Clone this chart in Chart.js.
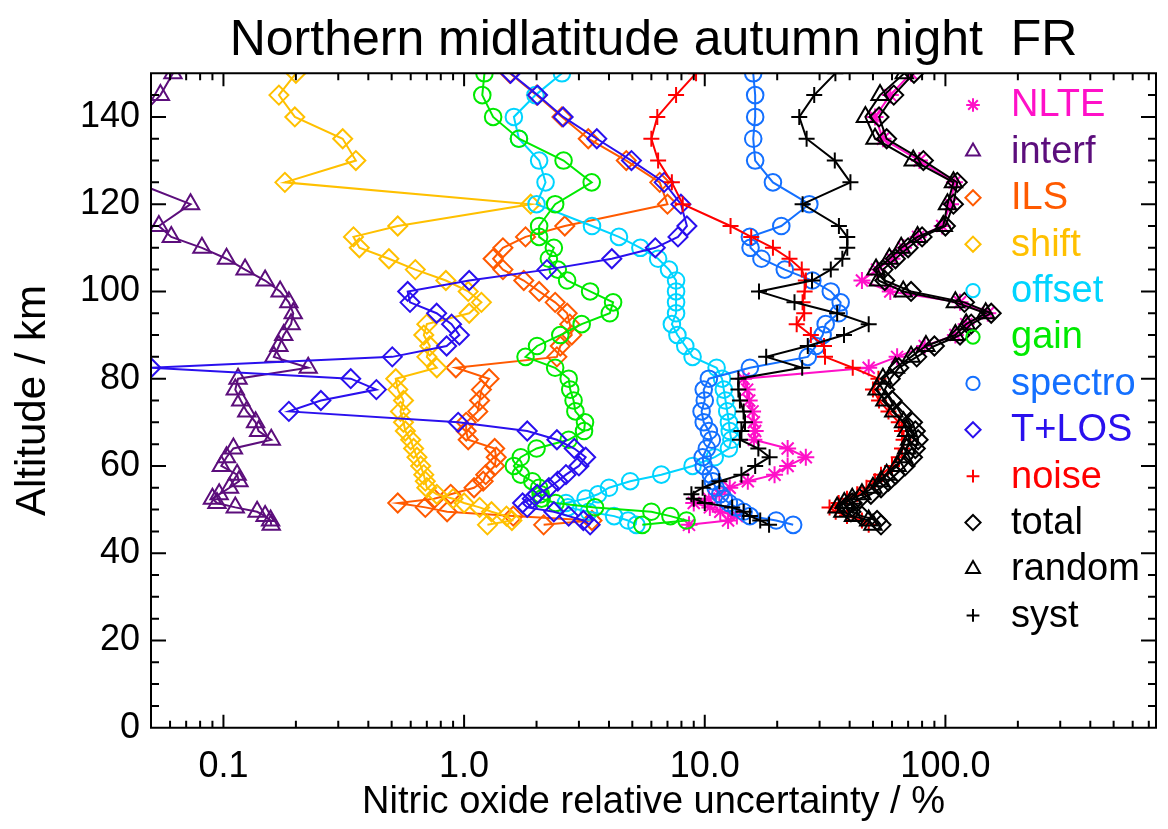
<!DOCTYPE html>
<html>
<head>
<meta charset="utf-8">
<title>Northern midlatitude autumn night FR</title>
<script src="https://cdn.jsdelivr.net/npm/chart.js"></script>
<style>
  html, body { margin: 0; padding: 0; background: #fff; }
  #wrap { width: 1168px; height: 829px; }
</style>
</head>
<body>
<div id="wrap"><canvas id="chart" width="1168" height="829"></canvas></div>
<script>
/*global Chart, document*/
(function () {
  "use strict";

  // retrieval altitude grid, km (bottom to top)
  var altitudeKm = [46.5, 47.5, 48.5, 49.5, 50.5, 51.5, 52.5, 53.5, 55, 56.5,
    58, 60, 62, 64, 66, 68, 70, 72.5, 75, 77.5, 80, 82.5, 85, 87.5, 90, 92.5,
    95, 97.5, 100, 102.5, 105, 107.5, 110, 112.5, 115, 120, 125, 130, 135,
    140, 145, 150];

  // relative uncertainty of NO per error source, % (same order as altitudeKm)
  var nlteErr = [8.6, 12.5, 13.6, 11.6, 10.5, 9.0, 10.4, 11.5, 12.7, 15.1,
    19.5, 22.1, 26.3, 22.1, 16, 16.2, 16, 15.8, 15.3, 15, 14.5, 48, 63, 82,
    110, 122, 150, 115, 59, 45, 52, 60, 67, 77, 97, 105, 109, 78, 55, 51, 59, 72];
  var interfErr = [0.158, 0.157, 0.149, 0.138, 0.112, 0.094, 0.090, 0.096,
    0.106, 0.116, 0.114, 0.098, 0.103, 0.110, 0.158, 0.140, 0.136, 0.125,
    0.118, 0.112, 0.115, 0.225, 0.162, 0.170, 0.178, 0.191, 0.195, 0.187,
    0.172, 0.149, 0.123, 0.103, 0.0814, 0.0607, 0.0539, 0.073, 0.043, 0.035,
    0.035, 0.045, 0.0547, 0.0617];
  var ilsErr = [2.14, 3.4, 1.6, 0.85, 0.69, 0.53, 0.75, 0.88, 1.1, 1.2, 1.23,
    1.34, 1.36, 1.34, 1.04, 1.02, 1.02, 1.14, 1.16, 1.18, 1.27, 0.924, 2.43,
    2.51, 2.8, 2.75, 2.68, 2.39, 2.05, 1.77, 1.45, 1.32, 1.45, 1.8, 2.62, 7.0,
    6.5, 4.72, 3.28, 2.55, 2.0, 1.55];
  var shiftErr = [1.25, 1.58, 1.5, 1.3, 1.16, 1.0, 0.9, 0.77, 0.7, 0.69, 0.68,
    0.66, 0.637, 0.617, 0.6, 0.57, 0.56, 0.544, 0.56, 0.53, 0.52, 0.77, 0.70,
    0.72, 0.68, 0.70, 1.05, 1.18, 1.04, 0.84, 0.627, 0.487, 0.367, 0.347,
    0.53, 1.89, 0.18, 0.355, 0.313, 0.198, 0.17, 0.2];
  var offsetErr = [5.2, 4.8, 4.2, 3.3, 2.7, 2.65, 3.2, 3.6, 4.0, 4.9, 6.6, 8.9,
    11, 12.6, 12.9, 12.7, 12.6, 12.4, 12.2, 12, 11.8, 11.2, 8.9, 8.3, 7.7,
    7.3, 7.6, 7.6, 7.6, 7.6, 7.1, 6.4, 5.4, 4.4, 3.4, 2.0, 2.18, 2.05, 1.69,
    1.61, 1.98, 2.55];
  var gainErr = [5.5, 8.4, 7.2, 6.0, 3.5, 2.4, 2.1, 2.08, 2.05, 1.92, 1.72,
    1.61, 1.72, 2.0, 2.72, 3.15, 3.18, 2.9, 2.85, 2.76, 2.72, 2.39, 1.8, 2.01,
    2.51, 3.08, 4.03, 4.16, 3.34, 2.68, 2.45, 2.25, 2.36, 2.05, 2.05, 2.39,
    3.39, 2.59, 1.69, 1.32, 1.19, 1.215];
  var spectroErr = [23.3, 19.8, 15.4, 14.5, 13.5, 12.6, 12, 11.6, 11.1, 10.8,
    10.6, 9.9, 9.8, 10.2, 10.7, 10.4, 9.9, 9.7, 10, 9.9, 10.4, 15.4, 26.8, 29,
    30.9, 31.8, 36, 36.7, 33.4, 28, 21.5, 17.2, 15.5, 15.4, 20.8, 27.2, 19.2,
    16.2, 15.9, 16.2, 16.2, 15.9];
  var tlosErr = [3.34, 3.13, 2.72, 2.36, 1.83, 1.75, 1.92, 2.01, 2.25, 2.45,
    2.65, 3.0, 3.2, 2.87, 2.43, 1.83, 0.945, 0.187, 0.254, 0.432, 0.338, 0.05,
    0.503, 0.846, 0.956, 0.887, 0.769, 0.596, 0.583, 1.05, 2.21, 4.11, 6.23,
    7.74, 8.43, 7.96, 6.78, 4.96, 3.56, 2.58, 2.02, 1.56];
  var noiseErr = [48, 45, 39, 35, 33, 36, 39, 43, 47, 51, 54, 60, 64, 66, 67,
    66, 64, 58, 53, 50, 52.7, 41.2, 31.6, 31.3, 27.6, 24.1, 25.9, 25.5, 26,
    26.3, 25.3, 22.5, 19.2, 15.6, 12.8, 8.1, 7.3, 6.4, 6.0, 6.35, 7.6, 9.2];
  var totalErr = [54, 52, 45, 40.5, 38.5, 41, 44, 49, 54, 58, 62, 68, 73, 75,
    77, 75, 73, 66, 60, 56, 59, 64, 76, 90, 115, 128, 155, 120, 72, 56, 55, 62,
    70, 80, 100, 108, 112, 81, 57, 53, 61, 74];
  var randomErr = [50, 48, 41.5, 37.5, 35.5, 38, 41, 45, 50, 54, 57, 63, 67,
    69, 71, 69, 67, 61, 56, 52, 55, 62, 72, 83, 110, 122, 147, 110, 66.8, 52.7,
    51.5, 58.5, 65.5, 76.6, 98, 102, 108, 73.5, 51, 46.5, 53.5, 67.5];
  var systErr = [18.5, 17, 15.4, 14.5, 13, 10, 9.0, 8.8, 9.8, 11.5, 14.2, 16.2,
    18.6, 16.7, 14, 14.2, 14.7, 14.5, 14, 13.8, 13.8, 25.4, 18, 26.8, 37.9, 48,
    35.5, 23.6, 16.8, 27.9, 33.4, 37.3, 39.1, 39.1, 36.1, 25.5, 40.3, 34.7,
    26.5, 24.7, 28.5, 34.9];

  var seriesNames = ["NLTE", "interf", "ILS", "shift", "offset", "gain",
    "spectro", "T+LOS", "noise", "total", "random", "syst"];
  var seriesValues = [nlteErr, interfErr, ilsErr, shiftErr, offsetErr, gainErr,
    spectroErr, tlosErr, noiseErr, totalErr, randomErr, systErr];

  // axis ticks
  var xMajorTicks = [0.1, 1, 10, 100];
  var xTickLabels = ["0.1", "1.0", "10.0", "100.0"];
  var yMajorTicks = [0, 20, 40, 60, 80, 100, 120, 140];
  var yTickLabels = ["0", "20", "40", "60", "80", "100", "120", "140"];

  // styles
  var seriesColors = ["#ff10c8", "#5c0e7c", "#ff5a00", "#ffc000", "#00d4ff",
    "#00ea00", "#1470ff", "#2a10ee", "#ff0000", "#000000", "#000000", "#000000"];
  var seriesMarkers = ["star", "triangle", "rectRot", "rectRot", "circle",
    "circle", "circle", "rectRot", "cross", "rectRot", "triangle", "cross"];
  var markerRadius = {star: 8.5, triangle: 10, rectRot: 9.5, circle: 8.3, cross: 8};

  var FONT = "'Liberation Sans', Arial, Helvetica, sans-serif";
  Chart.defaults.font.family = FONT;
  Chart.defaults.color = "#000";

  var datasets = seriesNames.map(function (name, k) {
    return {
      label: name,
      data: altitudeKm.map(function (alt, i) {
        return {x: seriesValues[k][i], y: alt};
      }),
      borderColor: seriesColors[k],
      backgroundColor: seriesColors[k],
      borderWidth: 2,
      tension: 0,
      pointStyle: seriesMarkers[k],
      pointRadius: markerRadius[seriesMarkers[k]],
      pointBorderWidth: 2,
      pointBackgroundColor: "rgba(0,0,0,0)",
      pointBorderColor: seriesColors[k],
      order: seriesNames.length - k
    };
  });

  function minorLogTicks(lo, hi) {
    var out = [], d, m, v;
    for (d = 0.01; d < hi; d *= 10) {
      for (m = 2; m <= 9; m += 1) {
        v = m * d;
        if (v > lo * 1.0001 && v < hi) {
          out.push(v);
        }
      }
    }
    return out;
  }

  // IDL style box with inward ticks on all four sides
  var framePlugin = {
    id: "idlFrame",
    afterDatasetsDraw: function (chart) {
      var ctx = chart.ctx,
        a = chart.chartArea,
        xs = chart.scales.x,
        ys = chart.scales.y,
        k,
        px,
        py,
        minorX = minorLogTicks(xs.min, xs.max),
        tick = function (x0, y0, x1, y1) {
          ctx.moveTo(x0, y0);
          ctx.lineTo(x1, y1);
        };
      ctx.save();
      ctx.strokeStyle = "#000";
      ctx.lineWidth = 2;
      ctx.beginPath();
      ctx.rect(a.left, a.top, a.right - a.left, a.bottom - a.top);
      for (k = 0; k < xMajorTicks.length; k += 1) {
        px = xs.getPixelForValue(xMajorTicks[k]);
        tick(px, a.bottom, px, a.bottom - 13);
        tick(px, a.top, px, a.top + 13);
      }
      for (k = 0; k < minorX.length; k += 1) {
        px = xs.getPixelForValue(minorX[k]);
        tick(px, a.bottom, px, a.bottom - 7);
        tick(px, a.top, px, a.top + 7);
      }
      for (k = 5; k < 150; k += 5) {
        py = ys.getPixelForValue(k);
        if (k % 20 === 0) {
          tick(a.left, py, a.left + 15, py);
          tick(a.right, py, a.right - 15, py);
        } else {
          tick(a.left, py, a.left + 8, py);
          tick(a.right, py, a.right - 8, py);
        }
      }
      ctx.stroke();
      ctx.restore();
    }
  };

  function drawMarker(ctx, style, x, y, r) {
    var i, ang;
    ctx.beginPath();
    if (style === "circle") {
      ctx.arc(x, y, r, 0, Math.PI * 2);
    } else if (style === "rectRot") {
      ctx.moveTo(x, y - r);
      ctx.lineTo(x + r, y);
      ctx.lineTo(x, y + r);
      ctx.lineTo(x - r, y);
      ctx.closePath();
    } else if (style === "triangle") {
      ctx.moveTo(x, y - r);
      ctx.lineTo(x + r * 0.866, y + r * 0.5);
      ctx.lineTo(x - r * 0.866, y + r * 0.5);
      ctx.closePath();
    } else if (style === "cross") {
      ctx.moveTo(x - r, y);
      ctx.lineTo(x + r, y);
      ctx.moveTo(x, y - r);
      ctx.lineTo(x, y + r);
    } else {
      for (i = 0; i < 4; i += 1) {
        ang = i * Math.PI / 4;
        ctx.moveTo(x - r * Math.cos(ang), y - r * Math.sin(ang));
        ctx.lineTo(x + r * Math.cos(ang), y + r * Math.sin(ang));
      }
    }
    ctx.stroke();
  }

  // legend in the upper right of the plot, text in series colour
  var legendPlugin = {
    id: "idlLegend",
    afterDraw: function (chart) {
      var ctx = chart.ctx, k, y;
      ctx.save();
      ctx.font = "38px " + FONT;
      ctx.textBaseline = "middle";
      ctx.textAlign = "left";
      ctx.lineWidth = 2;
      for (k = 0; k < seriesNames.length; k += 1) {
        y = 105 + k * 46.4;
        ctx.strokeStyle = seriesColors[k];
        drawMarker(ctx, seriesMarkers[k], 973, y, markerRadius[seriesMarkers[k]] * 0.8);
        ctx.fillStyle = seriesColors[k];
        ctx.fillText(seriesNames[k], 1011, y + 1);
      }
      ctx.restore();
    }
  };

  new Chart(document.getElementById("chart"), {
    type: "line",
    data: {datasets: datasets},
    options: {
      responsive: false,
      animation: false,
      devicePixelRatio: 1,
      indexAxis: "y",
      layout: {padding: {top: 0, right: 2, bottom: 0, left: 0}},
      plugins: {
        legend: {display: false},
        tooltip: {enabled: false},
        title: {
          display: true,
          fullSize: false,
          text: "Northern midlatitude autumn night  FR",
          color: "#000",
          font: {size: 50, weight: "normal", lineHeight: 1.2},
          padding: {top: 10.8, bottom: 2.5}
        }
      },
      scales: {
        x: {
          type: "logarithmic",
          position: "bottom",
          min: 0.05,
          max: 750,
          afterBuildTicks: function (scale) {
            scale.ticks = xMajorTicks.map(function (v) { return {value: v}; });
          },
          afterFit: function (scale) { scale.height = 101.3; },
          grid: {display: false, drawTicks: false},
          border: {display: false},
          ticks: {
            autoSkip: false,
            maxRotation: 0,
            padding: 18,
            color: "#000",
            font: {size: 36},
            callback: function (value, index) { return xTickLabels[index]; }
          },
          title: {
            display: true,
            text: "Nitric oxide relative uncertainty / %",
            color: "#000",
            font: {size: 38},
            padding: {top: 0, bottom: 4}
          }
        },
        y: {
          type: "linear",
          min: 0,
          max: 150,
          afterBuildTicks: function (scale) {
            scale.ticks = yMajorTicks.map(function (v) { return {value: v}; });
          },
          afterFit: function (scale) { scale.width = 151; },
          grid: {display: false, drawTicks: false},
          border: {display: false},
          ticks: {
            autoSkip: false,
            padding: 11,
            color: "#000",
            font: {size: 36},
            callback: function (value, index) { return yTickLabels[index]; }
          },
          title: {
            display: true,
            text: "Altitude / km",
            color: "#000",
            font: {size: 42},
            padding: {top: 8, bottom: 0}
          }
        }
      }
    },
    plugins: [framePlugin, legendPlugin]
  });
}());
</script>
</body>
</html>
